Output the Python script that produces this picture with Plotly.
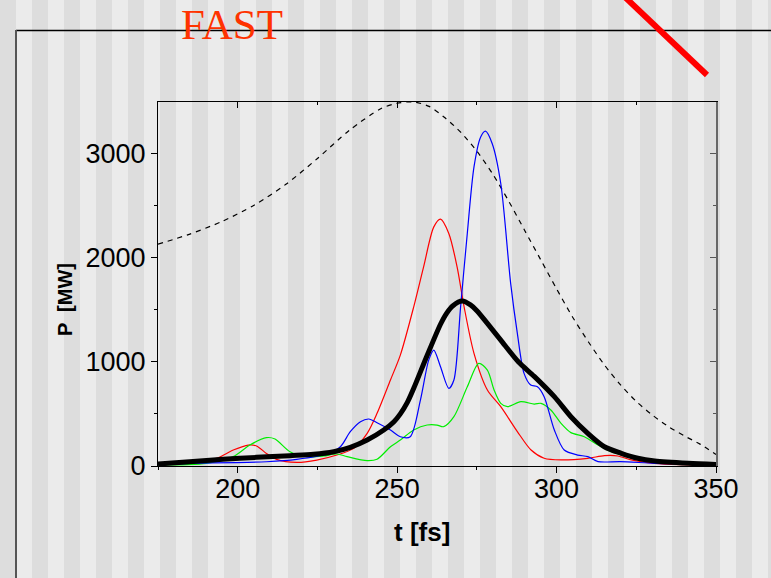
import plotly.graph_objects as go

# ---------------- data ----------------
t_dash = [175, 185, 195, 205, 215, 225, 235, 245, 250, 255, 260, 265, 270, 275, 280, 285,
          290, 295, 300, 305, 310, 315, 320, 325, 330, 335, 340, 345, 350]
P_dash = [2128, 2225, 2345, 2500, 2700, 2950, 3220, 3430, 3480, 3493, 3450, 3340, 3200, 3020,
          2800, 2540, 2260, 1980, 1700, 1430, 1190, 970, 780, 620, 490, 380, 290, 210, 110]

t_red = [175, 185, 193.3, 198.6, 203.3, 205.9, 209, 212.2, 218.5, 224.8, 231.1, 236.4, 240.6,
         243.7, 247.9, 251, 255.2, 258.3, 261.5, 263.6, 266.2, 268.8, 271, 274.1, 278.3, 282.5,
         287.7, 292, 296.1, 301.4, 309.8, 315, 319.2, 323.4, 330.7, 340, 350]
P_red = [20, 35, 74, 153, 201, 192, 121, 64, 35, 57, 105, 169, 313,
         505, 825, 1064, 1527, 1911, 2294, 2368, 2231, 1911, 1527, 1081, 729, 569,
         330, 153, 74, 58, 74, 99, 96, 58, 26, 12, 5]

t_blue = [175, 184.9, 199.6, 209, 218.5, 228, 232.2, 235.3, 238.5, 241.1, 243.7, 247.9, 251,
          254.1, 257.3, 259.9, 261.5, 263.6, 266.2, 267.8, 269.9, 272, 274.1, 276.2, 277.7,
          279.8, 282.5, 285.6, 287.7, 289.8, 291.9, 294, 296.1, 299.3, 302.4, 306.6, 309.8,
          313, 320, 330.7, 340, 350]
P_blue = [15, 26, 32, 41, 64, 115, 185, 329, 425, 451, 415, 345, 281,
          281, 633, 1016, 1112, 952, 745, 825, 1527, 2231, 2870, 3157, 3212,
          3094, 2710, 1752, 1272, 889, 777, 760, 665, 345, 153, 105, 90,
          42, 42, 26, 20, 10]

t_green = [175, 190.2, 198.6, 203.8, 209, 211.7, 216.4, 221.7, 226.9, 231.1, 234.3, 240.6,
           243.7, 247.9, 251, 255.2, 259.4, 262.5, 264.6, 267.8, 272, 275.6, 278.3, 280.4,
           282.5, 284.6, 288.8, 293, 295.1, 298.2, 301.4, 304.5, 308.7, 313, 317.1, 322.4,
           327.6, 336, 350]
P_green = [10, 26, 90, 201, 272, 259, 137, 90, 96, 115, 90, 51,
           64, 185, 249, 345, 393, 393, 377, 473, 760, 985, 920, 729,
           601, 569, 617, 594, 601, 537, 409, 320, 281, 201, 137, 90,
           51, 26, 15]

t_avg = [175, 184.9, 195.4, 205.9, 216.4, 223.8, 230.1, 235.3, 240.6, 245.8, 249, 251,
         253.2, 255.2, 259.4, 263.6, 265.5, 267.5, 270.4, 273, 275, 278.3, 282.5, 288, 293,
         299.3, 304.5, 309.8, 315, 320.3, 325.5, 330.8, 341.3, 350]
P_avg = [19, 41, 64, 83, 99, 112, 137, 179, 249, 345, 425, 500,
         610, 745, 1060, 1360, 1465, 1538, 1582, 1545, 1490, 1368, 1208, 1000, 860,
         665, 473, 313, 185, 122, 74, 48, 26, 15]

x_range = [175, 350]
y_range = [0, 3492]
title_text = "FAST"
x_title = "t [fs]"
y_title = "P  [MW]"

# ---------------- layout geometry ----------------
W, H = 771, 578
L, R, T, B = 158, 716, 102, 466   # plot area in pixels


def fx(px):
    return (px - L) / (R - L)


def fy(py):
    return (B - py) / (B - T)


fig = go.Figure()

fig.add_trace(go.Scatter(x=t_dash, y=P_dash, mode="lines",
                         line=dict(color="black", width=1.2, dash="5px,5px", shape="spline", smoothing=0.8)))
fig.add_trace(go.Scatter(x=t_red, y=P_red, mode="lines",
                         line=dict(color="#ff0000", width=1.2, shape="spline", smoothing=0.8)))
fig.add_trace(go.Scatter(x=t_green, y=P_green, mode="lines",
                         line=dict(color="#00ee00", width=1.2, shape="spline", smoothing=0.8)))
fig.add_trace(go.Scatter(x=t_blue, y=P_blue, mode="lines",
                         line=dict(color="#0000ff", width=1.2, shape="spline", smoothing=0.8)))
fig.add_trace(go.Scatter(x=t_avg, y=P_avg, mode="lines",
                         line=dict(color="black", width=5, shape="spline", smoothing=0.8)))
# invisible trace to activate the mirrored (top / right) axes with inside ticks
fig.add_trace(go.Scatter(x=x_range, y=y_range, mode="lines", xaxis="x2", yaxis="y2",
                         line=dict(width=0), opacity=0, hoverinfo="skip"))

tickfont = dict(family="Liberation Sans, Arial, sans-serif", size=27, color="black")

shapes = []
# background stripes
for k in range(0, W // 32 + 2):
    x0 = 32 * k
    shapes.append(dict(type="rect", xref="paper", yref="paper", layer="below",
                       x0=fx(x0), x1=fx(x0 + 16), y0=fy(H + 5), y1=fy(-5),
                       fillcolor="#dddddd", line=dict(width=0)))
# slide frame lines
shapes.append(dict(type="line", xref="paper", yref="paper", layer="below",
                   x0=fx(16), x1=fx(W + 5), y0=fy(30.5), y1=fy(30.5),
                   line=dict(color="black", width=1.5)))
shapes.append(dict(type="line", xref="paper", yref="paper", layer="below",
                   x0=fx(16), x1=fx(16), y0=fy(30), y1=fy(H + 5),
                   line=dict(color="#555555", width=2)))
# red diagonal stroke
shapes.append(dict(type="line", xref="paper", yref="paper", layer="above",
                   x0=fx(620), y0=fy(-7.6), x1=fx(707), y1=fy(75),
                   line=dict(color="#ff0000", width=6)))

annotations = [
    dict(text=title_text, xref="paper", yref="paper", x=fx(231.5), y=fy(24),
         xanchor="center", yanchor="middle", showarrow=False,
         font=dict(family="Liberation Serif, Times New Roman, serif", size=43, color="#ff3300")),
    dict(text="<b>" + x_title + "</b>", xref="paper", yref="paper", x=fx(422), y=fy(532),
         xanchor="center", yanchor="middle", showarrow=False,
         font=dict(family="Liberation Sans, Arial, sans-serif", size=26, color="black")),
    dict(text="<b>" + y_title + "</b>", xref="paper", yref="paper", x=fx(65), y=fy(300),
         xanchor="center", yanchor="middle", showarrow=False, textangle=-90,
         font=dict(family="Liberation Sans, Arial, sans-serif", size=20, color="black")),
]

fig.update_layout(
    width=W, height=H,
    margin=dict(l=L, r=W - R, t=T, b=H - B, pad=0),
    paper_bgcolor="#ebebeb",
    plot_bgcolor="rgba(0,0,0,0)",
    showlegend=False,
    hovermode=False,
    shapes=shapes,
    annotations=annotations,
    xaxis=dict(range=x_range, tick0=0, dtick=50, ticks="outside", ticklen=6, tickwidth=1,
               tickcolor="black", showline=True, linecolor="black", linewidth=1,
               showgrid=False, zeroline=False, tickfont=tickfont, ticklabelstandoff=-7,
               minor=dict(dtick=25, tick0=0, ticks="outside", ticklen=3, tickcolor="black", showgrid=False)),
    yaxis=dict(range=y_range, tick0=0, dtick=1000, ticks="outside", ticklen=6, tickwidth=1,
               tickcolor="black", showline=True, linecolor="black", linewidth=1,
               showgrid=False, zeroline=False, tickfont=tickfont,
               minor=dict(dtick=500, tick0=0, ticks="outside", ticklen=3, tickcolor="black", showgrid=False)),
    xaxis2=dict(range=x_range, overlaying="x", side="top", tick0=0, dtick=50, ticks="inside",
                ticklen=6, tickcolor="black", showticklabels=False, showline=True,
                linecolor="black", linewidth=1, showgrid=False, zeroline=False,
                minor=dict(dtick=25, tick0=0, ticks="inside", ticklen=3, tickcolor="black", showgrid=False)),
    yaxis2=dict(range=y_range, overlaying="y", side="right", tick0=0, dtick=1000, ticks="inside",
                ticklen=6, tickcolor="#555555", showticklabels=False, showline=True,
                linecolor="#666666", linewidth=2, showgrid=False, zeroline=False,
                minor=dict(dtick=500, tick0=0, ticks="inside", ticklen=3, tickcolor="#555555", showgrid=False)),
)

fig.write_html("out.html")
